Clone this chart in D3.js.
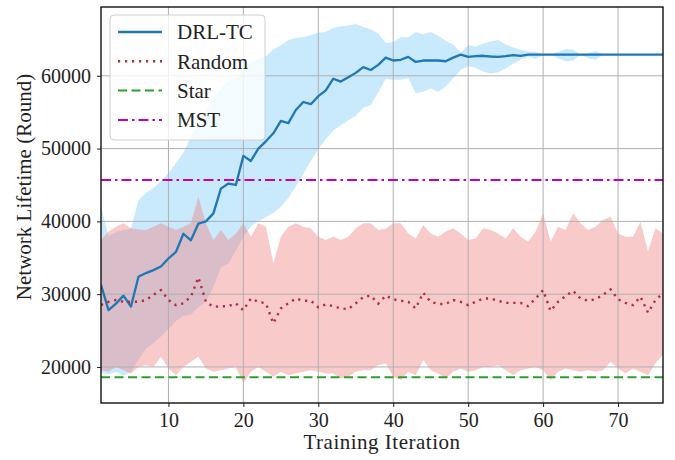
<!DOCTYPE html>
<html>
<head>
<meta charset="utf-8">
<script src="https://cdn.jsdelivr.net/npm/d3@7/dist/d3.min.js"></script>
<style>
  body { margin: 0; background: #fff; }
  text { font-family: "Liberation Serif", "Times New Roman", serif; fill: #222; }
</style>
</head>
<body>
<div id="svg"></div>
<script>
//Training iterations 1..76
const iterations = d3.range(1, 77);

//DRL-TC mean and band
const drlMean = [
  31300, 27800, 28700, 29800, 28300, 32400, 32900, 33300, 33800, 34900,
  35800, 38300, 37400, 39700, 40000, 41100, 44500, 45200, 45000, 49000,
  48300, 50000, 51000, 52100, 53800, 53500, 55300, 56400, 56100, 57200,
  58000, 59600, 59200, 59800, 60400, 61200, 60800, 61500, 62500, 62100,
  62200, 62600, 61900, 62100, 62100, 62100, 62000, 62500, 62900, 62600,
  62700, 62750, 62650, 62600, 62700, 62850, 62750, 62900, 62900, 62900,
  62900, 62900, 62900, 62900, 62900, 62900, 62900, 62900, 62900, 62900,
  62900, 62900, 62900, 62900, 62900, 62900
];
const drlUpper = [
  42000, 38000, 38500, 38800, 39000, 42900, 43900, 44600, 45500, 46600,
  48000, 49500, 51600, 53400, 55300, 56900, 58300, 59300, 59700, 61100,
  61900, 62300, 62700, 63600, 64200, 64900, 65200, 65300, 65600, 65900,
  66000, 66600, 66800, 66900, 67100, 66700, 66400, 65800, 64500, 64600,
  65300, 65300, 66000, 65700, 66000, 65500, 64800, 64300, 63200, 64200,
  64000, 64400, 64700, 64900, 64300, 63900, 63600, 63350, 63300, 62900,
  62900, 63300, 63650, 63600, 62900, 63100, 63400, 62900, 62900, 62900,
  62900, 62900, 62900, 62900, 62900, 62900
];
const drlLower = [
  19200, 19000, 19300, 18800, 19300, 21000, 22500, 23300, 24200, 25200,
  26300, 27000, 27200, 28200, 29000, 31000, 33700, 34200, 36000, 37900,
  39300, 40000, 40600, 41200, 42000, 43200, 44800, 46500, 48300, 49900,
  51300, 52500, 53200, 53900, 54500, 55600, 56000, 57700, 59600, 59450,
  59450, 59700, 57600, 57800, 58300, 57800, 58500, 59700, 60800, 61300,
  61100, 60600, 60300, 60500, 61000, 61700, 62200, 62650, 62300, 62900,
  62900, 62400, 62000, 62100, 62900, 62400, 62200, 62900, 62900, 62900,
  62900, 62900, 62900, 62900, 62900, 62900
];

//Random mean and band
const randomMean = [
  28500, 28950, 29200, 28950, 28950, 28950, 29200, 29900, 30550, 29200,
  28500, 28750, 29650, 32300, 28950, 28250, 28350, 28350, 28750, 27800,
  29400, 28950, 28750, 26000, 28050, 28750, 29400, 29100, 29100, 28200,
  28600, 28350, 28050, 27950, 28750, 29600, 29800, 28700, 29800, 29300,
  29100, 28950, 28050, 30200, 28950, 28650, 28650, 29200, 28950, 28500,
  28950, 29400, 29400, 29100, 28800, 28800, 28800, 28350, 29400, 30550,
  27700, 28950, 29750, 30450, 29400, 29100, 29300, 29900, 30650, 29300,
  28800, 28500, 29650, 27450, 29200, 30100
];
const randomUpper = [
  37450, 38600, 39250, 39750, 39050, 38900, 38800, 39250, 39750, 39250,
  38800, 39250, 39750, 43400, 39750, 37450, 38800, 37450, 38350, 39750,
  37900, 39750, 39250, 34250, 37900, 39250, 39750, 39250, 39050, 37900,
  37450, 37900, 37450, 37900, 39050, 39750, 39750, 38800, 39000, 39750,
  39750, 38350, 37650, 39500, 38350, 37900, 38600, 39050, 38350, 37450,
  37650, 39050, 38800, 38350, 37650, 39050, 37900, 37200, 38600, 41100,
  37200, 39250, 38800, 41100, 39750, 38800, 39250, 40200, 40650, 38350,
  37900, 37900, 39950, 35850, 39050, 38350
];
const randomLower = [
  19550, 19350, 20000, 19550, 19100, 20000, 20250, 20000, 21400, 19800,
  18850, 20000, 20700, 21400, 19800, 19350, 19550, 19800, 20000, 17750,
  19350, 20000, 19350, 18650, 19350, 18850, 19100, 19350, 19550, 19350,
  19100, 19100, 18400, 18650, 19350, 19550, 19550, 20250, 20500, 18650,
  18200, 19350, 18850, 20950, 19550, 19100, 18400, 19350, 19800, 19350,
  19550, 20000, 20000, 20250, 19550, 18850, 19550, 19800, 20000, 19550,
  18200, 19350, 19800, 19550, 19350, 19550, 19350, 19550, 20700, 19800,
  19100, 19800, 19350, 18850, 20500, 21650
];

//Baselines (constant lifetime)
const starLifetime = 18600;
const mstLifetime = 45700;

//Axis ticks
const xTicks = [10, 20, 30, 40, 50, 60, 70];
const yTicks = [20000, 30000, 40000, 50000, 60000];

const legendNames = ["DRL-TC", "Random", "Star", "MST"];

const width = 675,
  height = 460;
const margin = { top: 7, right: 12, bottom: 57, left: 101 };

const svg = d3
  .select("#svg")
  .append("svg")
  .attr("width", width)
  .attr("height", height)
  .style("background", "#fff");

const x = d3
  .scaleLinear()
  .domain([1, 76])
  .range([margin.left, width - margin.right]);
const y = d3
  .scaleLinear()
  .domain([15050, 69450])
  .range([height - margin.bottom, margin.top]);

svg
  .append("clipPath")
  .attr("id", "clip")
  .append("rect")
  .attr("x", x.range()[0])
  .attr("y", y.range()[1])
  .attr("width", x.range()[1] - x.range()[0])
  .attr("height", y.range()[0] - y.range()[1]);

const plot = svg.append("g").attr("clip-path", "url(#clip)");

//Shaded bands
const band = (upper, lower) =>
  d3
    .area()
    .x((d, i) => x(iterations[i]))
    .y0((d, i) => y(lower[i]))
    .y1((d, i) => y(upper[i]));

plot
  .append("path")
  .datum(drlUpper)
  .attr("d", band(drlUpper, drlLower))
  .attr("fill", "#87cefa")
  .attr("fill-opacity", 0.45);

plot
  .append("path")
  .datum(randomUpper)
  .attr("d", band(randomUpper, randomLower))
  .attr("fill", "#f08080")
  .attr("fill-opacity", 0.42);

//Grid
plot
  .append("g")
  .selectAll("line")
  .data(xTicks)
  .join("line")
  .attr("x1", (d) => x(d))
  .attr("x2", (d) => x(d))
  .attr("y1", y.range()[0])
  .attr("y2", y.range()[1])
  .attr("stroke", "#b0b0b0")
  .attr("stroke-width", 1);

plot
  .append("g")
  .selectAll("line")
  .data(yTicks)
  .join("line")
  .attr("x1", x.range()[0])
  .attr("x2", x.range()[1])
  .attr("y1", (d) => y(d))
  .attr("y2", (d) => y(d))
  .attr("stroke", "#b0b0b0")
  .attr("stroke-width", 1);

//Lines
const line = d3
  .line()
  .x((d, i) => x(iterations[i]))
  .y((d) => y(d));

const styles = [
  { color: "#1f77b4", dash: null, width: 2.3 },
  { color: "#b22b3e", dash: "2.2,4.8", width: 2.4 },
  { color: "#2ca02c", dash: "9,4.5", width: 2 },
  { color: "#bf00bf", dash: "10,4,2.5,4", width: 2 }
];

plot
  .append("path")
  .datum(drlMean)
  .attr("d", line)
  .attr("fill", "none")
  .attr("stroke", styles[0].color)
  .attr("stroke-width", styles[0].width)
  .attr("stroke-linejoin", "round");

plot
  .append("path")
  .datum(randomMean)
  .attr("d", line)
  .attr("fill", "none")
  .attr("stroke", styles[1].color)
  .attr("stroke-width", styles[1].width)
  .attr("stroke-dasharray", styles[1].dash);

[starLifetime, mstLifetime].forEach((v, k) => {
  const s = styles[k + 2];
  plot
    .append("line")
    .attr("x1", x.range()[0])
    .attr("x2", x.range()[1])
    .attr("y1", y(v))
    .attr("y2", y(v))
    .attr("stroke", s.color)
    .attr("stroke-width", s.width)
    .attr("stroke-dasharray", s.dash);
});

//Axes
const xAxis = svg
  .append("g")
  .attr("transform", "translate(0," + y.range()[0] + ")")
  .call(d3.axisBottom(x).tickValues(xTicks).tickSize(4).tickPadding(6));
const yAxis = svg
  .append("g")
  .attr("transform", "translate(" + x.range()[0] + ",0)")
  .call(d3.axisLeft(y).tickValues(yTicks).tickFormat(d3.format("d")).tickSize(4).tickPadding(6));

[xAxis, yAxis].forEach((g) => {
  g.select(".domain").remove();
  g.selectAll("text")
    .style("font-size", "20px")
    .style("font-family", '"Liberation Serif", serif')
    .attr("fill", "#222");
  g.selectAll(".tick line").attr("stroke", "#222").attr("stroke-width", 1);
});

//Frame
svg
  .append("rect")
  .attr("x", x.range()[0])
  .attr("y", y.range()[1])
  .attr("width", x.range()[1] - x.range()[0])
  .attr("height", y.range()[0] - y.range()[1])
  .attr("fill", "none")
  .attr("stroke", "#111")
  .attr("stroke-width", 1.4);

//Axis labels
svg
  .append("text")
  .attr("x", (x.range()[0] + x.range()[1]) / 2)
  .attr("y", 449)
  .attr("text-anchor", "middle")
  .style("font-size", "21px")
  .style("letter-spacing", "0.5px")
  .text("Training Iteration");

svg
  .append("text")
  .attr("transform", "translate(31,187) rotate(-90)")
  .attr("text-anchor", "middle")
  .style("font-size", "21px")
  .text("Network Lifetime (Round)");

//Legend
const legend = svg.append("g").attr("transform", "translate(110,15)");
legend
  .append("rect")
  .attr("width", 155)
  .attr("height", 125)
  .attr("rx", 4)
  .attr("fill", "#fff")
  .attr("fill-opacity", 0.8)
  .attr("stroke", "#d0d0d0")
  .attr("stroke-width", 1);

const item = legend
  .selectAll("g.item")
  .data(legendNames)
  .join("g")
  .attr("class", "item")
  .attr("transform", (d, i) => "translate(0," + (17 + i * 29.3) + ")");

item
  .append("line")
  .attr("x1", 8)
  .attr("x2", 52)
  .attr("stroke", (d, i) => styles[i].color)
  .attr("stroke-width", (d, i) => styles[i].width)
  .attr("stroke-dasharray", (d, i) => styles[i].dash);

item
  .append("text")
  .attr("x", 67)
  .attr("dy", "0.35em")
  .style("font-size", "21px")
  .text((d) => d);
</script>
</body>
</html>
